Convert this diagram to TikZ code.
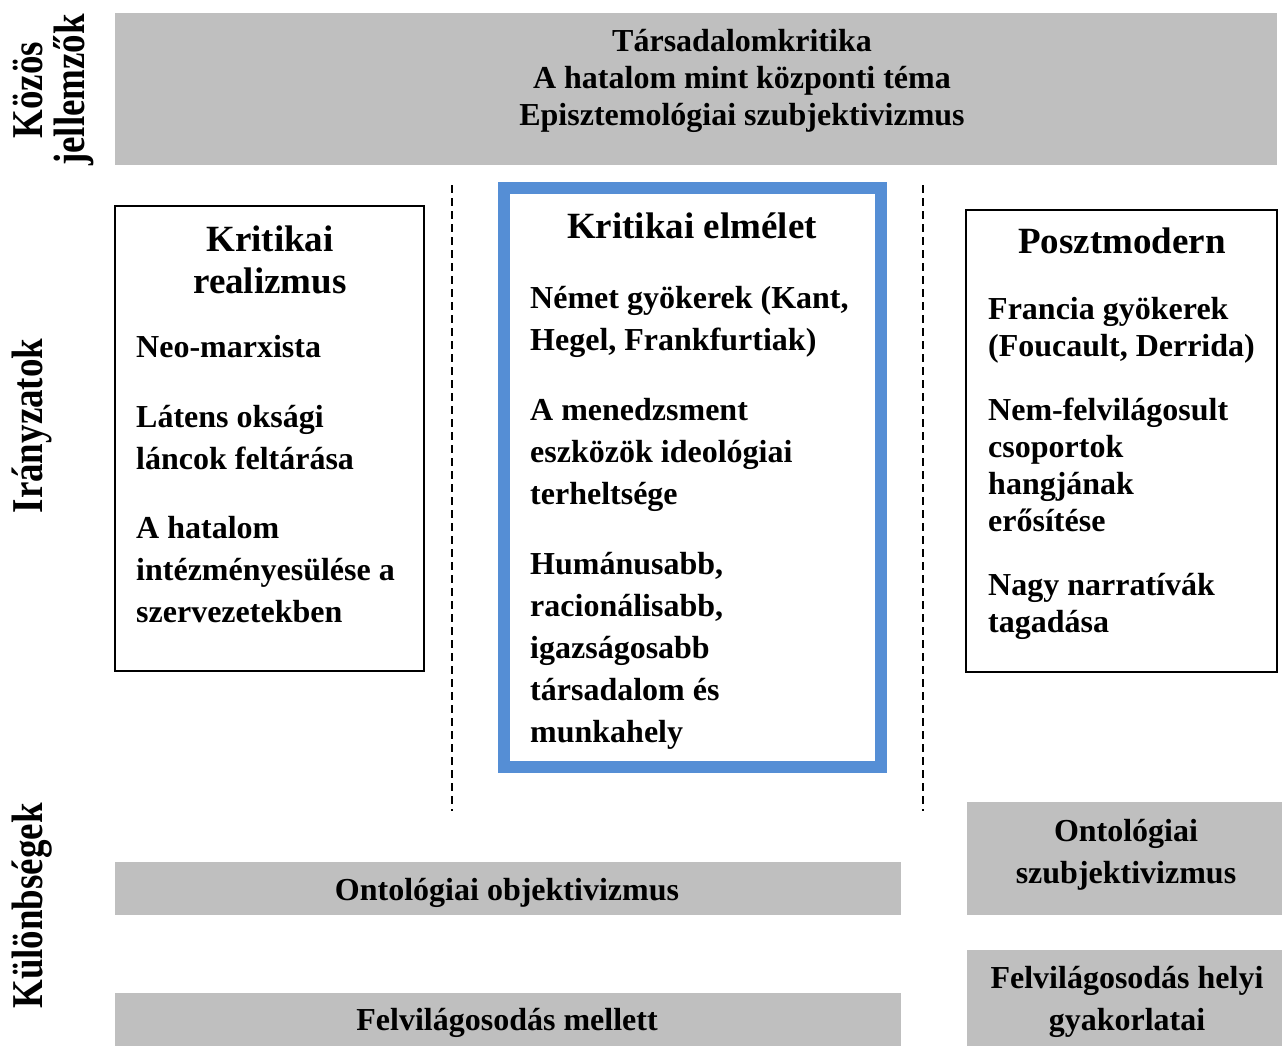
\documentclass[tikz,border=0pt]{standalone}
\usepackage{fontspec}
\setmainfont{Liberation Serif}
\definecolor{boxgray}{RGB}{191,191,191}
\definecolor{keblue}{RGB}{85,142,213}
\tikzset{
    body/.style={font=\fontsize{32}{42}\selectfont\bfseries, inner sep=0pt, align=left, anchor=base west},
    bodytight/.style={body, font=\fontsize{32}{37}\selectfont\bfseries},
    head/.style={font=\fontsize{37}{42}\selectfont\bfseries, inner sep=0pt, align=center, anchor=base},
    ctext/.style={font=\fontsize{32}{42}\selectfont\bfseries, inner sep=0pt, align=center, anchor=base},
    side/.style={font=\fontsize{44}{42}\selectfont\bfseries, inner sep=0pt, align=center, anchor=base, rotate=90, xscale=.84},
    framebox/.style={line width=1.5pt},
    sepline/.style={line width=1.6pt, dash pattern=on 8pt off 5pt}
}

\begin{document}
\begin{tikzpicture}[x=1pt,y=-1pt]
        \useasboundingbox (0,0) rectangle (1282,1046);

        % oldalsó feliratok (a base az utolsó sor alapvonala)
        \node[side] (kozos) at (84,90) {Közös\\jellemzők};
        \node[side] (iranyzat) at (42,426) {Irányzatok};
        \node[side] (kulonb) at (42,906) {Különbségek};

        % közös jellemzők
        \fill[boxgray] (115,13) rectangle (1277,165);
        \node[ctext, font=\fontsize{32}{37}\selectfont\bfseries] (kozostext) at (742,126) {Társadalomkritika\\A hatalom mint központi téma\\Episztemológiai szubjektivizmus};

        % elválasztó vonalak
        \foreach \x in {452,923}
        {
            \draw[sepline] (\x,185)--(\x,811);
        }

        % kritikai realizmus
        \draw[framebox] (115,206) rectangle (424,671);
        \node[head] (kr) at (270,293) {Kritikai\\realizmus};
        \node[body] (kr1) at (136,357) {Neo-marxista};
        \node[body] (kr2) at (136,469) {Látens oksági\\láncok feltárása};
        \node[body] (kr3) at (136,622) {A hatalom\\intézményesülése a\\szervezetekben};

        % kritikai elmélet
        \draw[keblue, line width=12pt] (504,188) rectangle (881,767);
        \node[head] (ke) at (692,238) {Kritikai elmélet};
        \node[body] (ke1) at (530,350) {Német gyökerek (Kant,\\Hegel, Frankfurtiak)};
        \node[body] (ke2) at (530,504) {A menedzsment\\eszközök ideológiai\\terheltsége};
        \node[body] (ke3) at (530,742) {Humánusabb,\\racionálisabb,\\igazságosabb\\társadalom és\\munkahely};

        % posztmodern
        \draw[framebox] (966,210) rectangle (1277,672);
        \node[head] (pm) at (1122,253) {Posztmodern};
        \node[bodytight] (pm1) at (988,356) {Francia gyökerek\\(Foucault, Derrida)};
        \node[bodytight] (pm2) at (988,531) {Nem-felvilágosult\\csoportok\\hangjának\\erősítése};
        \node[bodytight] (pm3) at (988,632) {Nagy narratívák\\tagadása};

        % különbségek
        \fill[boxgray] (115,862) rectangle (901,915);
        \node[ctext] (objekt) at (507,900) {Ontológiai objektivizmus};
        \fill[boxgray] (115,993) rectangle (901,1046);
        \node[ctext] (mellett) at (507,1030) {Felvilágosodás mellett};
        \fill[boxgray] (967,802) rectangle (1282,915);
        \node[ctext] (szubj) at (1126,883) {Ontológiai\\szubjektivizmus};
        \fill[boxgray] (967,950) rectangle (1282,1046);
        \node[ctext] (helyi) at (1127,1030) {Felvilágosodás helyi\\gyakorlatai};

    \end{tikzpicture}
\end{document}
